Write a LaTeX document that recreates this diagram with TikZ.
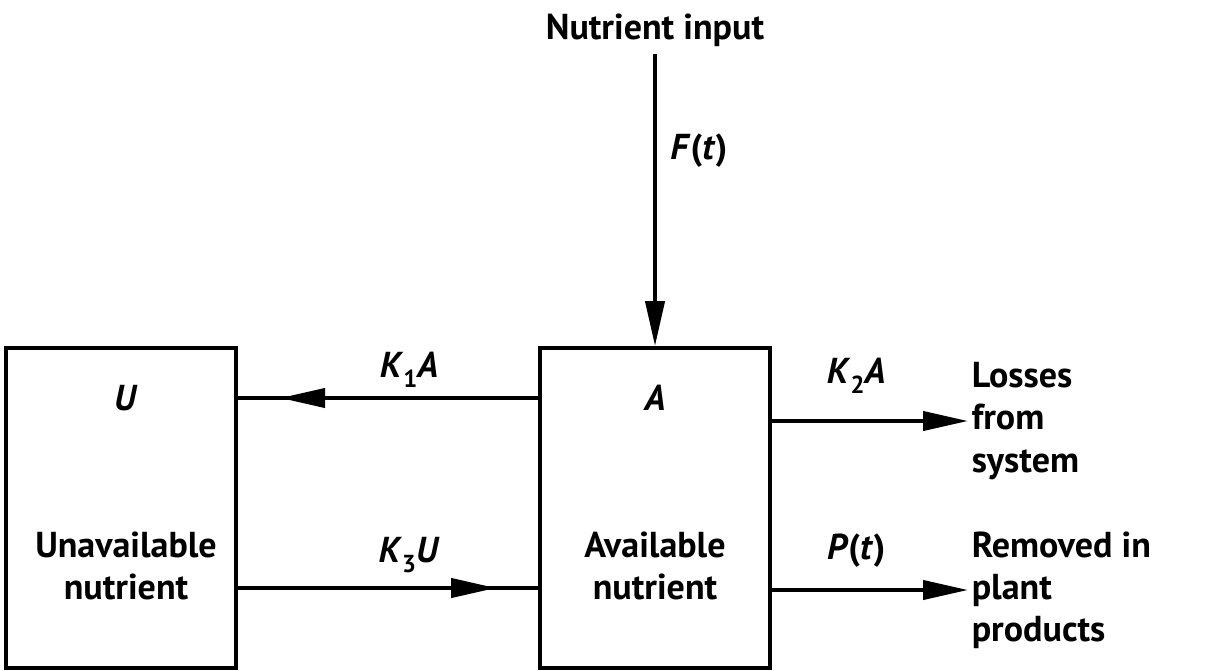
\documentclass[tikz,border=0pt]{standalone}
\usepackage{fontspec}
\setmainfont{PT Sans}
\usetikzlibrary{arrows.meta,positioning,decorations.markings}
\newcommand{\lowsub}[1]{\raisebox{-0.55ex}{\fontsize{14}{14}\selectfont #1}}

\begin{document}
\begin{tikzpicture}[>={Triangle[length=0.9cm,width=0.38cm]},x=0.02cm,y=-0.02cm,line width=2.3pt]
  \tikzstyle{box}=[draw,line width=2.2pt,minimum width=4.6cm,minimum height=6.4cm,inner sep=0pt]
  \tikzstyle{lbl}=[font=\fontsize{20.5}{24}\selectfont\bfseries,align=center]
  \tikzstyle{side}=[lbl,align=left,anchor=west,inner sep=1pt]
  \tikzstyle{midarrow}=[postaction={decorate},decoration={markings,mark=at position 0.86 with {\arrow{>}}}]
  \useasboundingbox (0,0) rectangle (1209,670);
  % compartments
  \node[box] (avail) at (655,508) {};
  \node[box,left=6cm of avail] (unavail) {};
  \node[lbl] (ulabel) at (126,398) {\textit{U}};
  \node[lbl] (udesc) at (126,566) {Unavailable\\nutrient};
  \node[lbl] (alabel) at (655,398) {\textit{A}};
  \node[lbl] (adesc) at (655,566) {Available\\nutrient};
  % inputs and outputs
  \node[lbl] (input) at (655,30) {Nutrient input};
  \node[side] (loss) at (968,421) {Losses\\from\\system};
  \node[side] (plant) at (968,590) {Removed in\\plant\\products};
  \coordinate (back) at (0,588);
  \draw[->] (input.south) -- node[lbl,right=0.15cm,pos=0.33] (fin) {\textit{F}(\textit{t})} (avail.north);
  \draw[midarrow] (avail.west |- alabel) -- node[lbl,above=0.05cm,pos=0.43] (k1) {\textit{K}\lowsub{1}\textit{A}} (unavail.east |- ulabel);
  \draw[midarrow] (unavail.east |- back) -- node[lbl,above=0.15cm,pos=0.57] (k3) {\textit{K}\lowsub{3}\textit{U}} (avail.west |- back);
  \draw[->] (avail.east |- loss.west) -- node[lbl,above=0.4cm,pos=0.43] (k2) {\textit{K}\lowsub{2}\textit{A}} (loss.west);
  \draw[->] (avail.east |- plant.west) -- node[lbl,above=0.3cm,pos=0.43] (pout) {\textit{P}(\textit{t})} (plant.west);
\end{tikzpicture}
\end{document}
